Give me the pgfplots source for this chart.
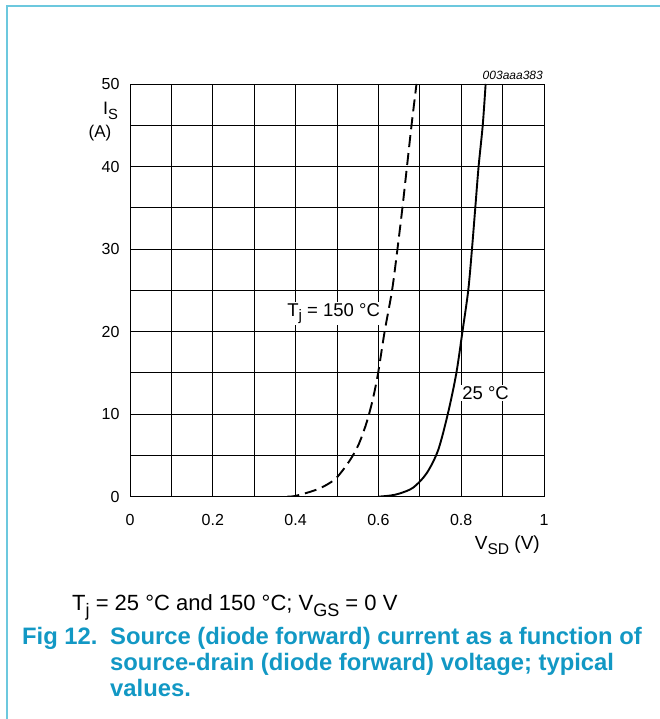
\documentclass[border=0pt]{standalone}
\usepackage{fontspec}
\setmainfont{Liberation Sans}
\usepackage{pgfplots}
\pgfplotsset{compat=1.18}
\definecolor{framecol}{RGB}{108,200,222}
\definecolor{capcol}{RGB}{18,152,196}
\newcommand{\sub}[1]{\raisebox{-0.45ex}{\scalebox{0.82}{#1}}}

\begin{document}
\begin{tikzpicture}[x=1pt,y=1pt]
\path[use as bounding box] (0,0) rectangle (660,719);
\draw[framecol,line width=2pt] (6.5,0) -- (6.5,712.5) -- (660,712.5);
\begin{axis}[
    at={(130pt,222.3pt)}, anchor=south west,
    scale only axis,
    width=414pt, height=412.7pt,
    xmin=0, xmax=1, ymin=0, ymax=50,
    xtick={0,0.2,0.4,0.6,0.8,1},
    minor xtick={0.1,0.3,0.5,0.7,0.9},
    ytick={0,10,20,30,40,50},
    minor ytick={5,15,25,35,45},
    grid=both,
    major grid style={black,line width=0.8pt},
    minor grid style={black,line width=0.8pt},
    axis line style={black,line width=0.9pt},
    major tick length=0pt, minor tick length=0pt,
    /pgf/number format/assume math mode=true,
    ticklabel style={font=\fontsize{16}{19}\selectfont},
    xticklabel style={yshift=-14pt},
    yticklabel style={xshift=-7pt},
]
  % 150 C (dashed)
  \addplot[black, line width=1.9pt, dash pattern=on 12pt off 6pt, smooth] coordinates {
    (0.380,0) (0.400,0.1) (0.442,0.7) (0.470,1.3) (0.499,2.3) (0.531,4.4)
    (0.552,6.3) (0.571,8.9) (0.586,11.7) (0.599,14.9) (0.615,20) (0.633,25)
    (0.646,30) (0.658,35) (0.669,40) (0.680,45) (0.692,50)
  };
  % 25 C (solid)
  \addplot[black, line width=1.9pt, smooth] coordinates {
    (0.600,0) (0.630,0.15) (0.652,0.4) (0.684,1.1) (0.716,2.8) (0.744,5.6)
    (0.768,10.1) (0.788,14.9) (0.803,20) (0.817,25) (0.826,30) (0.834,35)
    (0.842,40) (0.852,45) (0.859,50)
  };
  \node[fill=white, inner sep=1.5pt, font=\fontsize{18.5}{22}\selectfont]
    at (axis cs:0.492,22.2) {T\sub{j} = 150 °C};
  \node[fill=white, inner sep=1.5pt, font=\fontsize{18.5}{22}\selectfont]
    at (axis cs:0.859,12.6) {25 °C};
\end{axis}
\begin{scope}[every node/.style={inner sep=0pt}]
% axis titles
\node[anchor=base west, font=\fontsize{18}{21}\selectfont] at (103,604) {I\sub{S}};
\node[anchor=base, font=\fontsize{17}{20}\selectfont] at (100,581) {(A)};
\node[anchor=base east, font=\fontsize{19}{22}\selectfont] at (540,169) {V\sub{SD} (V)};
\node[anchor=base east, font=\fontsize{12}{14}\itshape] at (543,639) {003aaa383};
% caption
\node[anchor=base west, font=\fontsize{22}{26}\selectfont] at (72,108)
  {T\sub{j} = 25 °C and 150 °C; V\sub{GS} = 0 V};
\end{scope}
\begin{scope}[every node/.style={inner sep=0pt, anchor=base west, text=capcol, font=\fontsize{23.8}{26}\bfseries}]
\node at (22,74) {Fig 12.};
\node at (110,74) {Source (diode forward) current as a function of};
\node at (110,48) {source-drain (diode forward) voltage; typical};
\node at (110,22) {values.};
\end{scope}
\end{tikzpicture}
\end{document}
